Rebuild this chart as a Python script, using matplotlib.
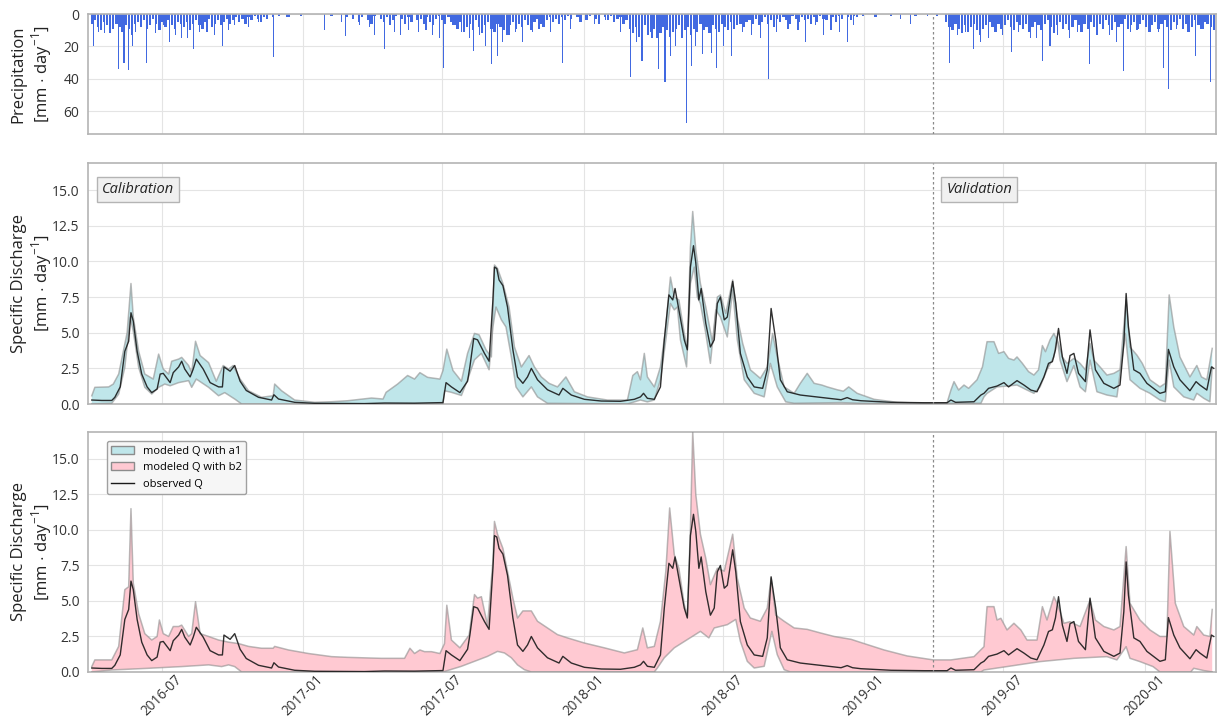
import numpy as np
import matplotlib
matplotlib.use("Agg")
import matplotlib.pyplot as plt
import matplotlib.dates as mdates
from matplotlib.patches import Patch
from matplotlib.lines import Line2D

plt.rcParams['font.family'] = ['Open Sans', 'DejaVu Sans']
plt.rcParams['mathtext.fontset'] = 'custom'
plt.rcParams['mathtext.rm'] = 'Open Sans'

# all series are given as day numbers counted from this date
start = np.datetime64('2016-04-01')
split_day = 1095  # 2019-04-01, end of calibration period

# observed specific discharge [mm/day]
obs_day = [0, 13, 26, 30, 37, 43, 48, 51, 54, 59,
           65, 72, 78, 85, 89, 93, 102, 106, 113, 117,
           121, 128, 132, 136, 145, 154, 165, 170, 172, 180,
           186, 193, 201, 217, 234, 237, 243, 264, 290, 355,
           381, 420, 442, 457, 461, 468, 479, 489, 492, 497,
           502, 511, 517, 522, 524, 527, 530, 535, 541, 548,
           554, 561, 567, 572, 580, 593, 608, 613, 624, 641,
           663, 688, 706, 714, 718, 723, 732, 740, 745, 751,
           756, 759, 764, 771, 775, 779, 783, 786, 790, 793,
           799, 805, 810, 814, 818, 823, 827, 834, 838, 844,
           853, 862, 873, 879, 884, 890, 896, 905, 922, 948,
           975, 983, 990, 1001, 1040, 1083, 1113, 1118, 1124, 1148,
           1157, 1161, 1167, 1178, 1187, 1193, 1204, 1213, 1222, 1230,
           1239, 1245, 1250, 1254, 1258, 1263, 1269, 1273, 1278, 1284,
           1293, 1299, 1306, 1317, 1330, 1338, 1343, 1346, 1349, 1356,
           1364, 1373, 1390, 1397, 1401, 1408, 1416, 1429, 1437, 1442,
           1451, 1457, 1460]
obs_q = [0.28, 0.25, 0.25, 0.47, 1.2, 3.7, 4.4, 6.4, 5.8, 3.7,
         2.1, 1.2, 0.8, 1.05, 2.1, 2.15, 1.5, 2.2, 2.6, 3.0,
         2.45, 1.9, 2.45, 3.15, 2.45, 1.5, 1.2, 1.2, 2.6, 2.3,
         2.7, 1.6, 0.95, 0.47, 0.28, 0.65, 0.35, 0.12, 0.05, 0.03,
         0.07, 0.06, 0.08, 0.1, 1.5, 1.2, 0.8, 1.6, 2.6, 4.6,
         4.5, 3.55, 3.0, 7.3, 9.6, 9.5, 8.7, 8.3, 6.8, 3.8,
         1.9, 1.45, 1.9, 2.5, 1.7, 1.0, 0.63, 1.1, 0.63, 0.33,
         0.21, 0.19, 0.33, 0.5, 0.75, 0.4, 0.33, 1.2, 4.5, 7.65,
         7.3, 8.1, 6.6, 4.5, 3.8, 9.6, 11.1, 9.9, 7.3, 8.1,
         5.65, 4.0, 4.5, 7.05, 7.5, 5.9, 6.1, 8.6, 7.05, 3.55,
         1.9, 1.2, 1.1, 2.4, 6.7, 4.5, 1.7, 0.86, 0.63, 0.47,
         0.3, 0.45, 0.3, 0.23, 0.12, 0.09, 0.09, 0.28, 0.12, 0.16,
         0.63, 0.75, 1.1, 1.26, 1.5, 1.2, 1.64, 1.33, 0.98, 0.86,
         1.9, 2.85, 2.97, 3.8, 5.3, 3.3, 2.15, 3.4, 3.55, 2.15,
         1.57, 5.2, 2.4, 1.45, 1.1, 1.33, 4.25, 7.75, 5.4, 2.4,
         2.15, 1.45, 0.75, 0.86, 3.83, 2.6, 1.7, 0.93, 1.57, 1.33,
         0.98, 2.6, 2.5]

# range of modeled Q with parameter set a1
a1_up_day = [0, 4, 22, 28, 35, 41, 46, 51, 54, 61,
             69, 80, 87, 93, 100, 104, 113, 117, 126, 130,
             135, 141, 152, 162, 171, 178, 184, 193, 204, 221,
             236, 238, 247, 264, 290, 312, 333, 364, 379, 383,
             398, 411, 420, 427, 437, 453, 457, 462, 470, 481,
             489, 498, 504, 513, 520, 524, 528, 535, 543, 550,
             559, 569, 576, 585, 595, 606, 617, 628, 645, 671,
             697, 704, 710, 714, 719, 723, 732, 740, 746, 753,
             758, 764, 771, 775, 779, 782, 786, 792, 799, 808,
             814, 818, 825, 834, 840, 847, 857, 870, 879, 886,
             892, 901, 914, 922, 931, 940, 950, 957, 970, 978,
             985, 996, 1018, 1048, 1083, 1113, 1118, 1122, 1128, 1135,
             1141, 1152, 1159, 1165, 1174, 1180, 1187, 1193, 1200, 1204,
             1211, 1219, 1226, 1232, 1237, 1241, 1247, 1252, 1258, 1263,
             1269, 1278, 1286, 1293, 1299, 1304, 1312, 1321, 1330, 1338,
             1346, 1351, 1360, 1367, 1377, 1390, 1397, 1402, 1408, 1416,
             1429, 1438, 1444, 1451, 1458]
a1_up = [0.58, 1.17, 1.2, 1.4, 2.1, 3.7, 5.0, 8.45, 6.1, 3.7,
         2.1, 1.75, 3.5, 2.45, 2.1, 3.0, 3.15, 3.27, 2.7, 2.2,
         4.4, 3.4, 2.9, 1.6, 2.7, 2.45, 2.7, 1.75, 0.93, 0.47,
         0.58, 1.4, 0.93, 0.28, 0.12, 0.16, 0.23, 0.42, 0.35, 0.82,
         1.4, 2.0, 1.75, 2.2, 1.87, 1.75, 2.35, 3.85, 2.35, 1.6,
         3.55, 4.95, 4.85, 3.8, 3.3, 9.75, 9.5, 8.45, 6.8, 4.0,
         2.6, 3.4, 2.6, 1.9, 1.45, 1.2, 1.9, 0.86, 0.5, 0.28,
         0.28, 2.0, 2.27, 1.7, 3.55, 1.9, 1.2, 2.6, 4.95, 8.9,
         7.5, 7.3, 4.95, 4.0, 11.0, 13.5, 10.8, 8.45, 6.8, 4.25,
         7.5, 7.65, 6.35, 8.7, 6.1, 4.25, 2.4, 1.8, 2.6, 4.95,
         3.3, 1.2, 0.75, 1.45, 2.15, 1.45, 1.33, 1.2, 1.0, 0.9,
         1.2, 0.75, 0.33, 0.12, 0.05, 0.09, 0.98, 1.57, 0.98, 1.33,
         1.1, 1.7, 2.6, 4.37, 4.37, 3.55, 3.67, 3.2, 3.08, 3.3,
         2.85, 2.27, 2.03, 2.4, 4.1, 3.67, 4.5, 4.95, 4.25, 3.3,
         2.85, 3.2, 2.85, 2.4, 4.25, 3.08, 2.6, 2.03, 2.15, 2.4,
         7.3, 4.0, 3.43, 2.85, 1.7, 1.2, 1.45, 7.65, 5.4, 3.3,
         1.9, 2.7, 1.9, 1.7, 3.9]
a1_low_day = [0, 26, 35, 43, 50, 54, 61, 69, 78, 87,
              95, 102, 113, 126, 130, 136, 152, 165, 173, 186,
              195, 457, 459, 468, 481, 489, 498, 507, 517, 522,
              526, 533, 539, 546, 552, 561, 572, 580, 593, 697,
              714, 723, 732, 740, 747, 753, 758, 762, 766, 774,
              779, 784, 788, 792, 799, 805, 812, 818, 827, 834,
              840, 849, 862, 875, 883, 892, 903, 914, 975, 1001,
              1157, 1161, 1165, 1178, 1191, 1204, 1217, 1226, 1234, 1243,
              1252, 1256, 1260, 1269, 1278, 1286, 1293, 1299, 1308, 1321,
              1334, 1345, 1351, 1364, 1377, 1390, 1397, 1402, 1408, 1421,
              1434, 1438, 1447, 1455, 1458]
a1_low = [0.0, 0.05, 0.7, 2.57, 6.1, 5.1, 2.57, 1.17, 0.7, 1.17,
          1.4, 1.28, 1.5, 1.64, 1.17, 1.75, 1.17, 0.58, 0.8, 0.35,
          0.0, 0.0, 0.93, 0.82, 0.6, 1.7, 3.1, 3.55, 2.4, 5.4,
          6.8, 5.9, 5.4, 3.3, 1.2, 0.5, 1.2, 0.5, 0.05, 0.0,
          0.28, 0.15, 0.28, 1.7, 4.5, 7.05, 6.6, 6.8, 4.5, 2.6,
          8.45, 9.6, 7.5, 7.05, 4.95, 2.85, 6.6, 6.1, 4.7, 8.0,
          4.5, 1.7, 0.75, 0.5, 2.85, 1.2, 0.15, 0.05, 0.1, 0.05,
          0.05, 0.5, 0.75, 1.2, 1.26, 1.33, 0.98, 0.75, 1.2, 2.4,
          3.3, 4.7, 3.08, 1.57, 2.7, 1.2, 0.86, 3.08, 0.86, 0.63,
          0.5, 4.95, 1.7, 1.1, 0.75, 0.28, 0.16, 3.08, 1.2, 0.5,
          0.28, 0.75, 0.4, 0.16, 2.6]

# range of modeled Q with parameter set b2
b2_up_day = [0, 4, 26, 35, 43, 48, 51, 54, 61, 69,
             78, 85, 88, 93, 100, 106, 113, 117, 126, 130,
             135, 141, 152, 165, 178, 191, 204, 221, 236, 238,
             256, 282, 312, 333, 377, 407, 414, 420, 427, 433,
             442, 453, 459, 462, 468, 479, 491, 498, 502, 507,
             515, 522, 524, 528, 535, 541, 548, 554, 561, 572,
             580, 593, 606, 619, 641, 667, 693, 710, 717, 723,
             732, 740, 747, 752, 758, 764, 771, 775, 779, 782,
             786, 792, 799, 805, 814, 823, 834, 840, 849, 857,
             870, 879, 884, 890, 901, 914, 931, 948, 966, 988,
             1005, 1031, 1061, 1095, 1118, 1148, 1161, 1165, 1174, 1178,
             1183, 1191, 1200, 1209, 1217, 1230, 1237, 1243, 1252, 1258,
             1265, 1273, 1286, 1299, 1306, 1317, 1330, 1338, 1346, 1351,
             1364, 1377, 1390, 1399, 1403, 1410, 1421, 1434, 1438, 1447,
             1455, 1458]
b2_up = [0.38, 0.85, 0.85, 1.8, 5.8, 6.0, 11.5, 6.25, 4.1, 2.7,
         2.25, 2.5, 3.66, 2.7, 2.5, 3.2, 3.2, 3.3, 2.5, 2.7,
         4.95, 2.7, 2.5, 2.25, 2.1, 2.0, 1.8, 1.67, 1.67, 1.8,
         1.55, 1.3, 1.08, 1.03, 0.96, 0.96, 1.67, 1.3, 1.55, 1.43,
         1.43, 1.3, 2.0, 4.7, 2.25, 1.7, 2.6, 5.45, 5.2, 5.3,
         3.3, 7.8, 10.6, 9.7, 8.7, 7.1, 5.2, 3.8, 4.3, 4.3,
         3.57, 3.1, 2.63, 2.4, 2.04, 1.7, 1.34, 1.57, 3.1, 1.7,
         1.8, 3.57, 7.1, 11.55, 8.26, 7.3, 4.74, 4.0, 10.1, 16.9,
         12.5, 9.7, 8.0, 6.15, 7.3, 7.1, 9.7, 6.6, 4.5, 3.8,
         3.57, 4.5, 6.6, 4.0, 3.57, 3.1, 3.0, 2.75, 2.5, 2.3,
         2.0, 1.55, 1.13, 0.85, 0.85, 1.08, 1.78, 4.6, 4.6, 3.66,
         3.78, 2.96, 3.43, 2.96, 2.25, 2.25, 4.6, 3.66, 5.3, 4.6,
         3.43, 3.54, 3.2, 5.07, 3.66, 3.2, 2.96, 3.2, 8.83, 4.84,
         3.66, 2.96, 2.5, 2.5, 9.9, 4.84, 3.2, 2.6, 3.2, 2.6,
         2.5, 4.4]
b2_low_day = [0, 26, 74, 117, 152, 169, 178, 186, 195, 457,
              481, 498, 515, 528, 537, 546, 554, 563, 572, 732,
              736, 745, 758, 775, 792, 803, 810, 827, 838, 844,
              853, 862, 875, 885, 892, 901, 909, 1157, 1161, 1191,
              1234, 1278, 1321, 1334, 1346, 1351, 1364, 1381, 1390, 1430,
              1434, 1447, 1458]
b2_low = [0, 0.14, 0.26, 0.38, 0.5, 0.38, 0.5, 0.38, 0, 0,
          0.4, 0.75, 1.1, 1.45, 1.34, 1.0, 0.5, 0.16, 0, 0,
          0.28, 1.0, 1.7, 2.28, 2.86, 2.4, 3.1, 3.33, 3.7, 2.16,
          0.75, 0.28, 0.4, 2.86, 1.22, 0.16, 0, 0, 0.14, 0.38,
          0.73, 0.96, 1.08, 0.85, 1.78, 0.96, 0.73, 0.38, 0, 0,
          0.26, 0.1, 0]

# larger daily rain events [mm/day]
rain_day = [2, 9, 17, 24, 35, 42, 48, 53, 57, 71,
            76, 83, 94, 101, 109, 117, 125, 132, 140, 150,
            160, 170, 178, 186, 204, 217, 236, 253, 273, 303,
            325, 330, 348, 361, 368, 381, 394, 402, 412, 425,
            435, 443, 453, 458, 469, 481, 492, 497, 505, 512,
            520, 528, 535, 543, 551, 561, 574, 582, 597, 613,
            623, 643, 654, 669, 688, 701, 709, 716, 729, 737,
            746, 753, 760, 768, 774, 780, 786, 795, 806, 813,
            822, 832, 847, 858, 870, 881, 891, 906, 919, 929,
            942, 952, 962, 973, 983, 991, 1019, 1052, 1065, 1088,
            1116, 1126, 1137, 1147, 1157, 1167, 1175, 1185, 1197, 1206,
            1221, 1229, 1237, 1247, 1257, 1272, 1283, 1298, 1308, 1324,
            1334, 1343, 1352, 1362, 1377, 1388, 1395, 1401, 1411, 1426,
            1436, 1447, 1456]
rain_mm = [19.6, 11, 12, 11, 34, 30, 34.4, 19.6, 11, 30,
           7, 12, 7, 17.5, 13, 15, 15, 21.6, 11, 11,
           13, 19.6, 10, 7, 8, 5, 26.8, 2, 1, 9.7,
           5, 13.4, 7, 8, 13, 21.6, 11, 13, 10, 11,
           10, 13, 15, 33, 7, 11, 15, 22.7, 13, 19.6,
           31, 25.8, 17.5, 13, 11, 17.5, 11, 9, 11, 30,
           9, 4, 6, 4, 11, 39, 17.5, 29, 15, 34,
           42, 26, 19.6, 15, 67, 32, 19.6, 24.7, 24, 33,
           19.6, 25.8, 11, 13, 15, 40, 11, 9, 10, 17.5,
           7, 13, 10, 11, 17.5, 7, 1, 3, 6, 1,
           30, 13, 11, 21.6, 17.5, 15, 11, 13, 23.7, 11,
           15, 15, 29, 19.6, 13, 15, 11, 31, 13, 13,
           17.5, 35, 11, 9, 11, 11, 33, 46.4, 9, 11,
           25.8, 9, 42]

# light rain, one value per 4-day step from the start date
rain_4day = [6, 4, 8, 10, 5, 7, 12, 9, 6, 8, 11, 7, 9, 13, 6,
             5, 8, 4, 9, 7, 3, 6, 10, 5, 8, 4, 7, 9, 5, 6,
             8, 5, 10, 6, 4, 7, 9, 5, 3, 8, 6, 4, 7, 5, 3,
             6, 4, 2, 5, 3, 6, 2, 4, 1, 3, 5, 2, 3,
             0, 2, 0, 1, 0, 0, 2, 0, 0, 0, 1, 0, 0, 0, 0, 0, 0, 0, 0, 0,
             1, 0, 0, 0, 0, 2, 0,
             3, 0, 5, 2, 0, 4, 6, 1, 0, 3, 5, 2, 7, 4, 1, 0, 3, 6, 2, 5,
             0, 4, 3, 6, 2, 5, 7, 3, 1, 4, 6, 2, 5,
             7, 9, 5, 11, 8, 6, 10, 4, 8, 12, 7, 5, 9, 11, 6, 8, 10, 13, 7, 5,
             9, 6, 8, 4, 7, 10, 5, 3, 6, 8, 4, 2, 5, 3, 6, 2, 4, 1,
             3, 0, 2, 5, 0, 4, 1, 0, 3, 6, 0, 2, 4, 1, 5, 3, 2, 6, 4,
             9, 12, 8, 14, 10, 7, 13, 11, 9, 15, 12, 8, 10, 14, 11, 9, 7, 12, 10, 8,
             13, 9, 11, 6, 10, 8, 12, 7, 9, 11, 6, 8, 10, 5, 9, 7, 6, 8, 5,
             4, 6, 3, 7, 5, 2, 6, 4, 8, 3, 5, 2, 4, 6, 1, 3, 5, 2, 4, 3,
             6, 2, 5, 1, 3, 4, 0, 2, 5, 1, 3, 0, 2, 4, 1, 2,
             0, 1, 0, 0, 0, 2, 0, 0, 0, 0, 1, 0, 0, 0, 0, 0, 0, 0, 1, 0,
             0, 0, 0, 0, 0, 1, 0, 0,
             5, 8, 10, 6, 9, 12, 7, 11, 8, 6, 10, 13, 9, 7, 5, 8, 11, 6, 9, 7,
             4, 8, 10, 5, 7, 9, 6, 11, 8, 5, 7, 10, 6, 4, 8, 12, 7, 5, 9, 6,
             10, 8, 4, 7, 11, 6, 9, 5, 8, 3, 6, 9, 4, 7, 10, 5, 8, 6, 3, 9,
             7, 5, 10, 6, 4, 8, 11, 7, 5, 9, 6, 4, 8, 10, 5, 7, 3, 9, 6, 11,
             8, 4, 7, 9, 5, 6, 8, 10]


def to_num(days):
    return mdates.date2num(start + np.asarray(days).astype('timedelta64[D]'))


def band(ax, up_day, up, low_day, low, color):
    xu, xl = to_num(up_day), to_num(low_day)
    ax.fill(np.concatenate([xu, xl[::-1]]), np.concatenate([up, low[::-1]]),
            color=color, lw=0, zorder=2)
    ax.plot(xu, up, color='#8c8c8c', lw=1.1, alpha=0.6, zorder=3)
    ax.plot(xl, low, color='#8c8c8c', lw=1.1, alpha=0.6, zorder=3)


cyan = '#bfe6ea'
pink = '#ffc9d2'
split = to_num([split_day])[0]

fig = plt.figure(figsize=(12.18, 7.18), dpi=100)
ax_p = fig.add_axes([0.0722, 0.8134, 0.9262, 0.1671])
ax_a = fig.add_axes([0.0722, 0.4373, 0.9262, 0.3357], sharex=ax_p)
ax_b = fig.add_axes([0.0722, 0.0641, 0.9262, 0.3343], sharex=ax_p)

# precipitation, hanging from the top
rain_4day = np.array(rain_4day, dtype=float)
ax_p.bar(to_num(np.arange(len(rain_4day)) * 4), rain_4day, width=3.0,
         color='royalblue', lw=0, zorder=2)
ax_p.bar(to_num(rain_day), rain_mm, width=1.5, color='royalblue', lw=0, zorder=2)
ax_p.set_ylim(74, 0)
ax_p.set_yticks([0, 20, 40, 60])

band(ax_a, a1_up_day, np.array(a1_up), a1_low_day, np.array(a1_low), cyan)
band(ax_b, b2_up_day, np.array(b2_up), b2_low_day, np.array(b2_low), pink)
for ax in (ax_a, ax_b):
    ax.plot(to_num(obs_day), obs_q, color='#1a1a1a', lw=1.0, alpha=0.9, zorder=4)
    ax.set_ylim(0, 16.9)
    ax.set_yticks([0, 2.5, 5, 7.5, 10, 12.5, 15])
    ax.yaxis.set_major_formatter(matplotlib.ticker.FormatStrFormatter('%.1f'))

for ax in (ax_p, ax_a, ax_b):
    ax.grid(True, color='#e4e4e4', lw=0.8)
    ax.set_axisbelow(True)
    for s in ax.spines.values():
        s.set_color('#b4b4b4')
        s.set_linewidth(1.2)
    ax.tick_params(length=0, labelsize=10, colors='#333333', pad=6)
    ax.axvline(split, color='#8a8a8a', lw=0.9, ls=(0, (2, 2)), zorder=5)

ax_p.set_xlim(to_num([-5])[0], to_num([1463])[0])
ax_b.xaxis.set_major_locator(mdates.MonthLocator(bymonth=[1, 7]))
ax_b.xaxis.set_major_formatter(mdates.DateFormatter('%Y-%m'))
ax_p.tick_params(labelbottom=False)
ax_a.tick_params(labelbottom=False)
ax_b.tick_params(axis='x', pad=0, labelsize=9.8)
for lbl in ax_b.get_xticklabels():
    lbl.set_rotation(45)

ylab = '\n[mm $\\cdot$ day$^{-1}$]'
ax_p.set_ylabel('Precipitation' + ylab, fontsize=12, color='#222222', linespacing=1.15)
ax_a.set_ylabel('Specific Discharge' + ylab, fontsize=12, color='#222222', linespacing=1.15)
ax_b.set_ylabel('Specific Discharge' + ylab, fontsize=12, color='#222222', linespacing=1.15)
for ax in (ax_p, ax_a, ax_b):
    ax.yaxis.set_label_coords(-0.03, 0.5)

box = dict(boxstyle='square,pad=0.35', facecolor='#f0f0f0', edgecolor='#b4b4b4', lw=1)
ax_a.text(0.0125, 0.92, 'Calibration', transform=ax_a.transAxes, style='italic',
          fontsize=10.5, va='top', ha='left', bbox=box, color='#222222', zorder=6)
ax_a.text(to_num([1112])[0], 0.92, 'Validation', transform=ax_a.get_xaxis_transform(),
          style='italic', fontsize=10.5, va='top', ha='left', bbox=box, color='#222222', zorder=6)

handles = [Patch(facecolor=cyan, edgecolor='#8c8c8c'),
           Patch(facecolor=pink, edgecolor='#8c8c8c'),
           Line2D([], [], color='#1a1a1a', lw=1.0)]
ax_b.legend(handles, ['modeled Q with a1', 'modeled Q with b2', 'observed Q'],
            loc='upper left', bbox_to_anchor=(0.012, 0.985), fontsize=8,
            edgecolor='#a0a0a0', facecolor='#f6f6f6', framealpha=1)

fig.savefig('out.png', dpi=100)
